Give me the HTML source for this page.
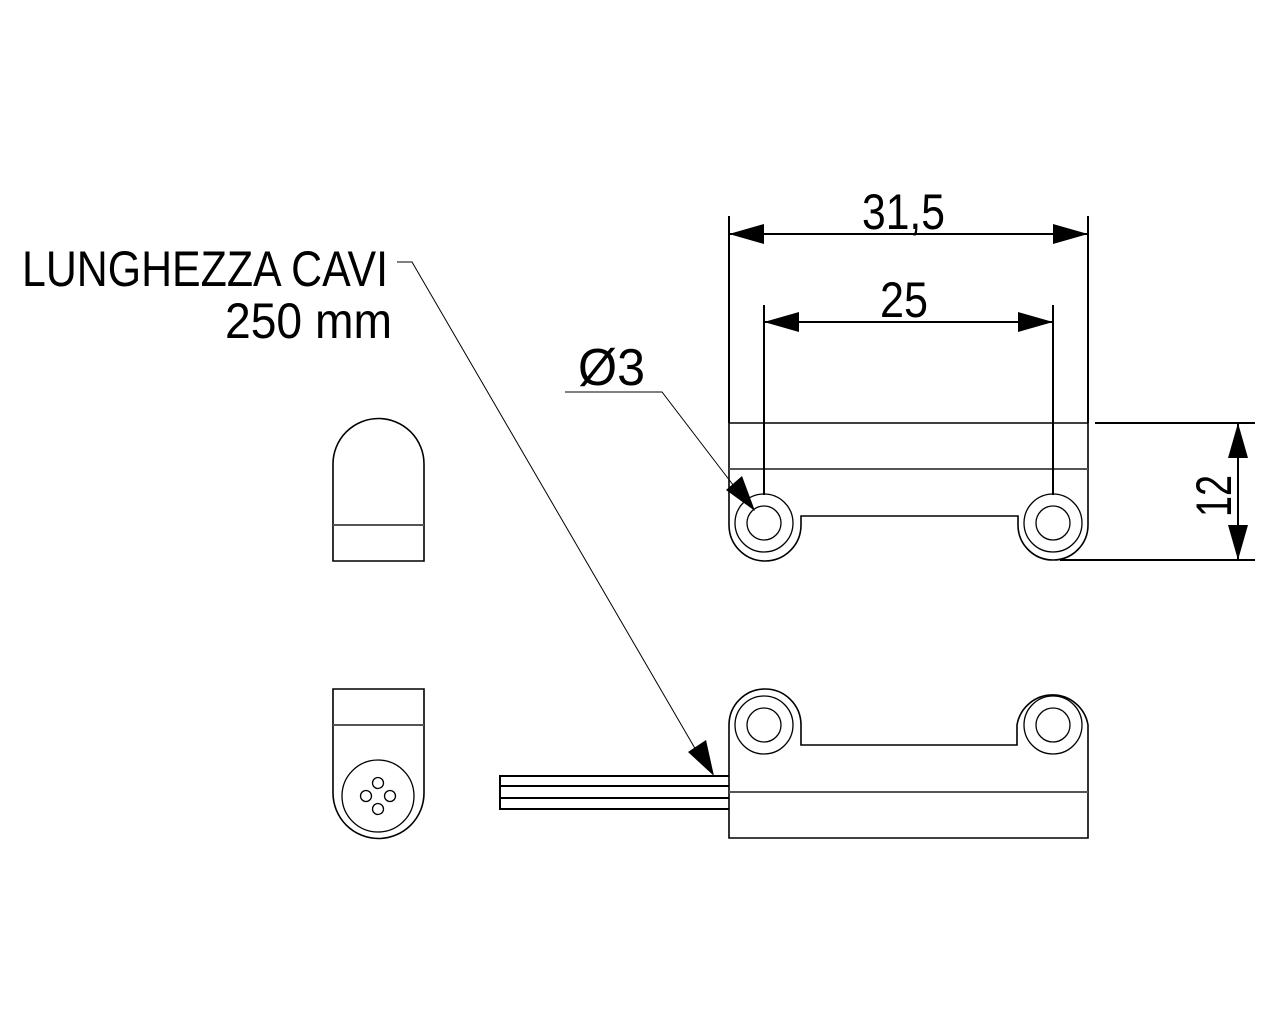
<!DOCTYPE html>
<html><head><meta charset="utf-8"><style>
html,body{margin:0;padding:0;background:#fff;}
svg{display:block}
text{font-family:"Liberation Sans Narrow","Liberation Sans",sans-serif;fill:#000;}
</style></head><body>
<svg width="1280" height="1024" viewBox="0 0 1280 1024" xmlns="http://www.w3.org/2000/svg">
<rect width="1280" height="1024" fill="#fff"/>
<g fill="none" stroke="#000" stroke-width="2" shape-rendering="crispEdges">
<path d="M333,561 V464 A45,45 0 0 1 424,464 V561 Z" shape-rendering="auto" stroke-width="1.6"/>
<line x1="333" y1="525" x2="424" y2="525" stroke="#555"/>
<path d="M333,689 H424 V793 A45.5,45.5 0 0 1 333,793 Z" shape-rendering="auto" stroke-width="1.6"/>
<line x1="333" y1="725" x2="424" y2="725" stroke="#555"/>
<g stroke-width="1.3" shape-rendering="auto">
<circle cx="378" cy="796" r="36"/>
<circle cx="378" cy="783" r="5.5"/><circle cx="378" cy="809" r="5.5"/>
<circle cx="366" cy="796" r="5.5"/><circle cx="390" cy="796" r="5.5"/>
</g>
<path d="M729,423 H1088 V525 A35,35 0 0 1 1053,560 A35,35 0 0 1 1018,525 V516 H801 V525 A36,36 0 0 1 729,525 Z" shape-rendering="auto" stroke-width="1.6"/>
<line x1="729" y1="469" x2="1088" y2="469" stroke="#555"/>
<g stroke-width="1.3" shape-rendering="auto">
<circle cx="764" cy="523" r="17"/><circle cx="764" cy="523" r="29"/>
<circle cx="1053" cy="523" r="17"/><circle cx="1053" cy="523" r="29"/>
</g>
<path d="M729,838 V725 A36,36 0 0 1 801,725 V745 H1017 V725 A36,36 0 0 1 1088,725 V838 Z" shape-rendering="auto" stroke-width="1.6"/>
<line x1="729" y1="792" x2="1088" y2="792" stroke="#555"/>
<g stroke-width="1.3" shape-rendering="auto">
<circle cx="764" cy="725" r="17"/><circle cx="764" cy="725" r="29"/>
<circle cx="1053" cy="725" r="17"/><circle cx="1053" cy="725" r="29"/>
</g>
<path d="M729,776 H500 V809 H729 M500,786 H729 M500,798 H729"/>
<g stroke-width="1.6">
<line x1="729" y1="216" x2="729" y2="423"/>
<line x1="1088" y1="216" x2="1088" y2="423"/>
<line x1="729" y1="234" x2="1088" y2="234"/>
<line x1="764" y1="305" x2="764" y2="495"/>
<line x1="1053" y1="305" x2="1053" y2="495"/>
<line x1="764" y1="322" x2="1053" y2="322"/>
<line x1="1095" y1="423" x2="1255" y2="423"/>
<line x1="1060" y1="560" x2="1255" y2="560"/>
<line x1="1238" y1="423" x2="1238" y2="560"/>
</g>
<g stroke-width="1" shape-rendering="auto">
<polyline points="397,262 412,262 700,757"/>
<polyline points="565,392 662,392 740,494"/>
</g>
</g>
<g fill="#000">
<polygon points="729,234 764,224 764,244"/>
<polygon points="1088,234 1053,224 1053,244"/>
<polygon points="764,322 799,312 799,332"/>
<polygon points="1053,322 1018,312 1018,332"/>
<polygon points="1238,423 1228,458 1248,458"/>
<polygon points="1238,560 1228,525 1248,525"/>
<polygon points="714,776 688,752 706,740"/>
<polygon points="755,511 726,490 742,476"/>
</g>
<text x="22" y="286" font-size="50" textLength="366" lengthAdjust="spacingAndGlyphs">LUNGHEZZA CAVI</text>
<text x="225" y="338" font-size="50" textLength="167" lengthAdjust="spacingAndGlyphs">250 mm</text>
<text x="862" y="229" font-size="50" textLength="83" lengthAdjust="spacingAndGlyphs">31,5</text>
<text x="880" y="317" font-size="50" textLength="48" lengthAdjust="spacingAndGlyphs">25</text>
<text x="578" y="385" font-size="52" textLength="67" lengthAdjust="spacingAndGlyphs">Ø3</text>
<text transform="translate(1231,517) rotate(-90)" font-size="50" textLength="42" lengthAdjust="spacingAndGlyphs">12</text>
</svg>
</body></html>
